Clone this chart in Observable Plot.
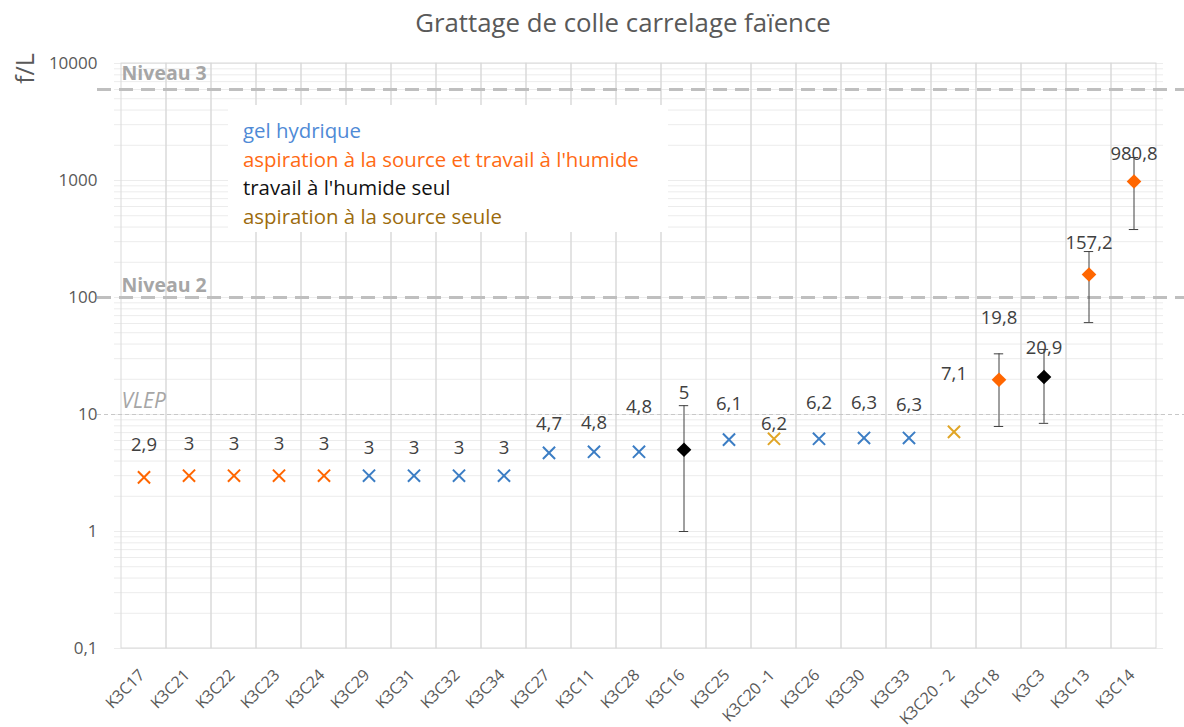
<!DOCTYPE html>
<html>
<head>
<meta charset="utf-8">
<script src="https://cdn.jsdelivr.net/npm/d3@7"></script>
<script src="https://cdn.jsdelivr.net/npm/@observablehq/plot@0.6"></script>
<style>
  body { margin: 0; background: white; }
  #wrap { position: relative; width: 1184px; height: 727px; font-family: "Open Sans", sans-serif; }
  #title { height: 45px; line-height: 44px; font-size: 25.8px; color: #595959; text-align: center; padding-left: 62px; box-sizing: border-box; }
  #legend { position: absolute; left: 228px; top: 105px; width: 440px; height: 127px; background: white;
            box-sizing: border-box; padding: 11px 0 0 15px; font-size: 20.4px; line-height: 28.5px; white-space: nowrap; }
</style>
</head>
<body>
<div id="wrap">
  <div id="title">Grattage de colle carrelage faïence</div>
  <div id="chart"></div>
  <div id="legend"></div>
</div>
<script>
// ---- data ----
const samples = ["K3C17","K3C21","K3C22","K3C23","K3C24","K3C29","K3C31","K3C32","K3C34","K3C27","K3C11","K3C28","K3C16","K3C25","K3C20 -1","K3C26","K3C30","K3C33","K3C20 - 2","K3C18","K3C3","K3C13","K3C14"];
const values  = [2.9,3,3,3,3,3,3,3,3,4.7,4.8,4.8,5,6.1,6.2,6.2,6.3,6.3,7.1,19.8,20.9,157.2,980.8];
const methods = ["aspHum","aspHum","aspHum","aspHum","aspHum","gel","gel","gel","gel","gel","gel","gel","hum","gel","asp","gel","gel","gel","asp","aspHum","hum","aspHum","aspHum"];
const errLow  = [null,null,null,null,null,null,null,null,null,null,null,null,1.0,null,null,null,null,null,null,7.9,8.4,61,381];
const errHigh = [null,null,null,null,null,null,null,null,null,null,null,null,11.9,null,null,null,null,null,null,33,36,247,1573];
const methodKeys   = ["gel","aspHum","hum","asp"];
const methodLabels = ["gel hydrique","aspiration à la source et travail à l'humide","travail à l'humide seul","aspiration à la source seule"];
const yTicks = [0.1, 1, 10, 100, 1000, 6000, 10000];
const levelValues = [6000, 100, 10];
const levelLabels = ["Niveau 3", "Niveau 2", "VLEP"];

// ---- styling ----
const markerColor = {gel: "#3b7dc4", aspHum: "#ff6600", hum: "#000000", asp: "#e0a526"};
const legendColor = {gel: "#4f8ad6", aspHum: "#ff6a13", hum: "#111111", asp: "#9c6b0c"};
const labelLift = [32,32,32,32,32,28,28,28,28,29,29,45,57,36,15,36,35,33,58,62,29,31,27];

const idx = d3.range(samples.length);
const hasErr = idx.filter(i => errLow[i] != null);
const crosses = idx.filter(i => errLow[i] == null);

const minorGrid = [];
for (let e = -1; e < 4; e++) for (let k = 1; k <= 9; k++) minorGrid.push(k * Math.pow(10, e));
minorGrid.push(10000);

const fmt = d => String(d).replace(".", ",");

const marks = [
  Plot.ruleY(minorGrid, {stroke: "#ececec", strokeWidth: 1}),
  Plot.cell(samples, {x: d => d, fill: "none", stroke: "#d9d9d9", strokeWidth: 1}),
  Plot.ruleY([levelValues[0], levelValues[1]], {stroke: "#bfbfbf", strokeWidth: 3, strokeDasharray: "14,8", insetLeft: -17, insetRight: -21}),
  Plot.ruleY([levelValues[2]], {stroke: "#c8c8c8", strokeWidth: 1, strokeDasharray: "4,3", insetLeft: -17, insetRight: -21}),
  Plot.text([levelLabels[0]], {y: levelValues[0], frameAnchor: "left", dx: 7, dy: -16, textAnchor: "start", fontSize: 19.5, fontWeight: "bold", fill: "#a6a6a6", text: d => d}),
  Plot.text([levelLabels[1]], {y: levelValues[1], frameAnchor: "left", dx: 7, dy: -12, textAnchor: "start", fontSize: 19.5, fontWeight: "bold", fill: "#a6a6a6", text: d => d}),
  Plot.text([levelLabels[2]], {y: levelValues[2], frameAnchor: "left", dx: 7, dy: -13, textAnchor: "start", fontSize: 21, fontStyle: "italic", fill: "#a6a6a6", text: d => d}),
  Plot.axisY(yTicks, {tickSize: 0, tickPadding: 17, tickFormat: fmt, fontSize: 17, fill: "#595959"}),
  Plot.axisX({tickRotate: -45, tickSize: 0, tickPadding: 24, dx: -2, fontSize: 16, fill: "#595959"}),
  Plot.text(["f/L"], {frameAnchor: "top-left", dx: -89, dy: 5, rotate: -90, textAnchor: "middle", lineAnchor: "middle", fontSize: 25, fill: "#595959", text: d => d}),
  Plot.ruleX(hasErr, {x: i => samples[i], y1: i => errLow[i], y2: i => errHigh[i], stroke: "#404040", strokeWidth: 1}),
  Plot.tickY(hasErr, {x: i => samples[i], y: i => errLow[i], stroke: "#404040", insetLeft: 17.8, insetRight: 17.8}),
  Plot.tickY(hasErr, {x: i => samples[i], y: i => errHigh[i], stroke: "#404040", insetLeft: 17.8, insetRight: 17.8}),
  Plot.dot(crosses, {x: i => samples[i], y: i => values[i], symbol: "times", r: 5.6, stroke: i => markerColor[methods[i]], strokeWidth: 2}),
  Plot.dot(hasErr, {x: i => samples[i], y: i => values[i], symbol: "diamond2", r: 6.6, fill: i => markerColor[methods[i]], stroke: "none"}),
  ...idx.map(i => Plot.text([i], {x: j => samples[j], y: j => values[j], dy: -labelLift[i], text: j => fmt(values[j]), fontSize: 18.5, fill: "#404040"}))
];

const chart = Plot.plot({
  width: 1184, height: 682,
  marginTop: 18, marginBottom: 79, marginLeft: 114, marginRight: 21,
  style: {fontFamily: "Open Sans, sans-serif", background: "white", overflow: "visible"},
  x: {type: "band", domain: samples, padding: 0, label: null},
  y: {type: "log", domain: [0.1, 10000], label: null},
  color: {type: "identity"},
  marks
});
document.getElementById("chart").appendChild(chart);

const legend = document.getElementById("legend");
methodKeys.forEach((k, i) => {
  const div = document.createElement("div");
  div.textContent = methodLabels[i];
  div.style.color = legendColor[k];
  legend.appendChild(div);
});
</script>
</body>
</html>
